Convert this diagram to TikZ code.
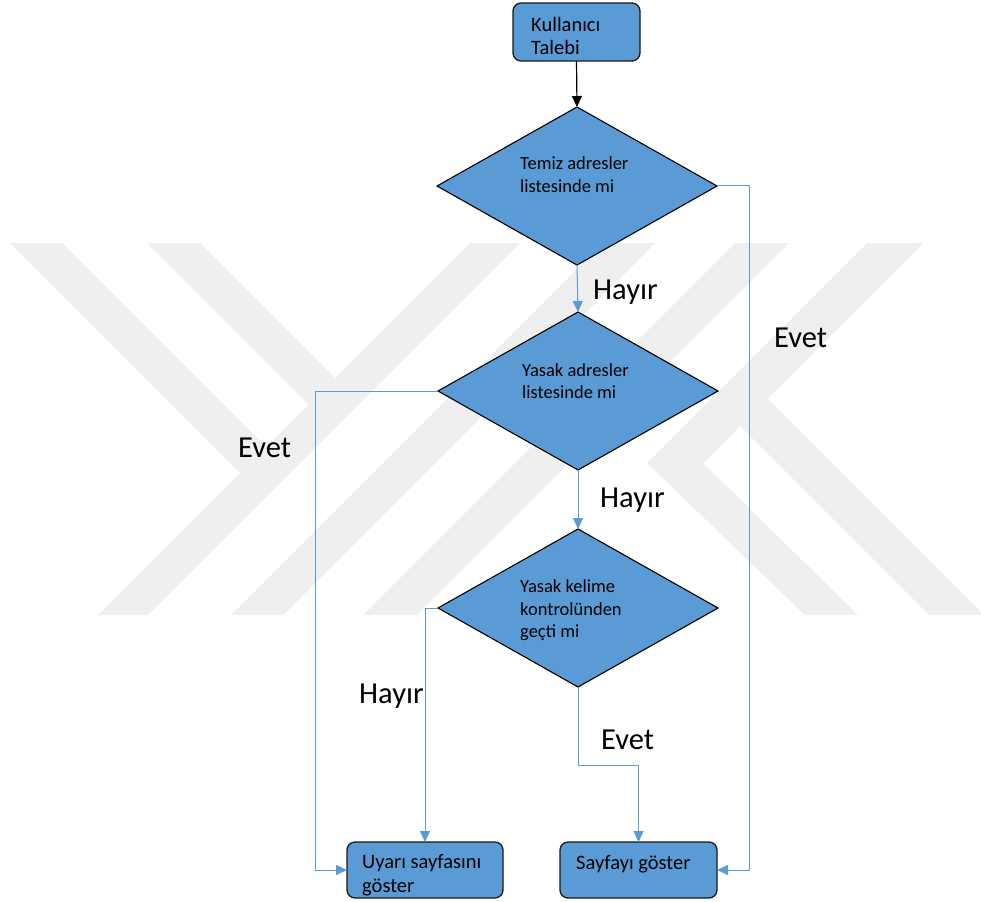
\documentclass[tikz,border=0pt]{standalone}
\usepackage{fontspec}
\setmainfont{Carlito}
\usetikzlibrary{shapes.geometric,arrows.meta}
\definecolor{boxblue}{RGB}{91,155,213}
\definecolor{linkblue}{RGB}{91,155,213}
\definecolor{wmgray}{RGB}{239,239,239}
\definecolor{edgecol}{RGB}{25,25,25}
\begin{document}
\begin{tikzpicture}[x=1pt,y=-1pt,
  wm/.style={fill=wmgray,draw=none},
  procbox/.style={draw=edgecol,line width=1.3pt,fill=boxblue,rounded corners=8pt,inner sep=0pt,outer sep=0pt},
  decision/.style={diamond,draw=black,line width=1.1pt,fill=boxblue,inner sep=0pt,outer sep=0pt,minimum width=280pt,minimum height=158pt},
  boxtext/.style={anchor=base west,inner sep=0pt,font=\fontsize{20.5}{24}\selectfont},
  dtext/.style={anchor=base west,inner sep=0pt,font=\fontsize{18.5}{22}\selectfont},
  biglabel/.style={anchor=base west,inner sep=0pt,font=\fontsize{30.5}{36}\selectfont},
  link/.style={draw=linkblue,line width=1pt,-{Triangle[length=11pt,width=10pt]}},
  blacklink/.style={draw=black,line width=1.2pt,-{Triangle[length=11pt,width=10pt]}}
]
\useasboundingbox (0,0) rectangle (981,901);
% watermark
\fill[wm] (10,243) -- (62,243) -- (291,472) -- (240,473) -- cycle;
\fill[wm] (470,243) -- (520,243) -- (148,615) -- (98,615) -- cycle;
\fill[wm] (147,243) -- (200,243) -- (335,378) -- (333,429) -- cycle;
\fill[wm] (603,243) -- (655,243) -- (283,615) -- (231,615) -- cycle;
\fill[wm] (735,243) -- (789,243) -- (417,615) -- (363,615) -- cycle;
\fill[wm] (867,243) -- (923,243) -- (703,463) -- (858,615) -- (805,615) -- (647,463) -- cycle;
\fill[wm] (712,398) -- (767,398) -- (984,615) -- (929,615) -- cycle;

% nodes
\node[procbox,minimum width=127pt,minimum height=58pt] (k) at (576.5,32) {};
\node[boxtext] (k1) at (531,32) {Kullanıcı};
\node[boxtext] (k2) at (531,55) {Talebi};

\node[decision] (d1) at (577,186) {};
\node[dtext] (d1a) at (520,170) {Temiz adresler};
\node[dtext] (d1b) at (520,192.5) {listesinde mi};

\node[decision] (d2) at (578,391) {};
\node[dtext] (d2a) at (522,376) {Yasak adresler};
\node[dtext] (d2b) at (522,398.5) {listesinde mi};

\node[decision] (d3) at (578,608) {};
\node[dtext] (d3a) at (520,592.5) {Yasak kelime};
\node[dtext] (d3b) at (520,615) {kontrolünden};
\node[dtext] (d3c) at (520,637.5) {geçti mi};

\node[procbox,minimum width=156pt,minimum height=56pt] (u) at (425,870) {};
\node[boxtext] (u1) at (362,868) {Uyarı sayfasını};
\node[boxtext] (u2) at (362,892) {göster};

\node[procbox,minimum width=157pt,minimum height=56pt] (s) at (638.5,870) {};
\node[boxtext] (s1) at (576,869) {Sayfayı göster};

% labels
\node[biglabel] (l1) at (593,299) {Hayır};
\node[biglabel] (l2) at (600,507) {Hayır};
\node[biglabel] (l3) at (774,347) {Evet};
\node[biglabel] (l4) at (238,457) {Evet};
\node[biglabel] (l5) at (359,703) {Hayır};
\node[biglabel] (l6) at (601,749) {Evet};

% connectors
\draw[blacklink] (k.south) -- (d1.north);
\draw[link] (d1.south) -- (d2.north);
\draw[link] (d2.south) -- (d3.north);
\draw[link] (d1.east) -- ++(32,0) |- (s.east);
\draw[link] (d2.west) -- ++(-123,0) |- (u.west);
\draw[link] (d3.west) -| (u.north);
\draw[link] (d3.south) -- ++(0,78) -| (s.north);
\end{tikzpicture}
\end{document}
